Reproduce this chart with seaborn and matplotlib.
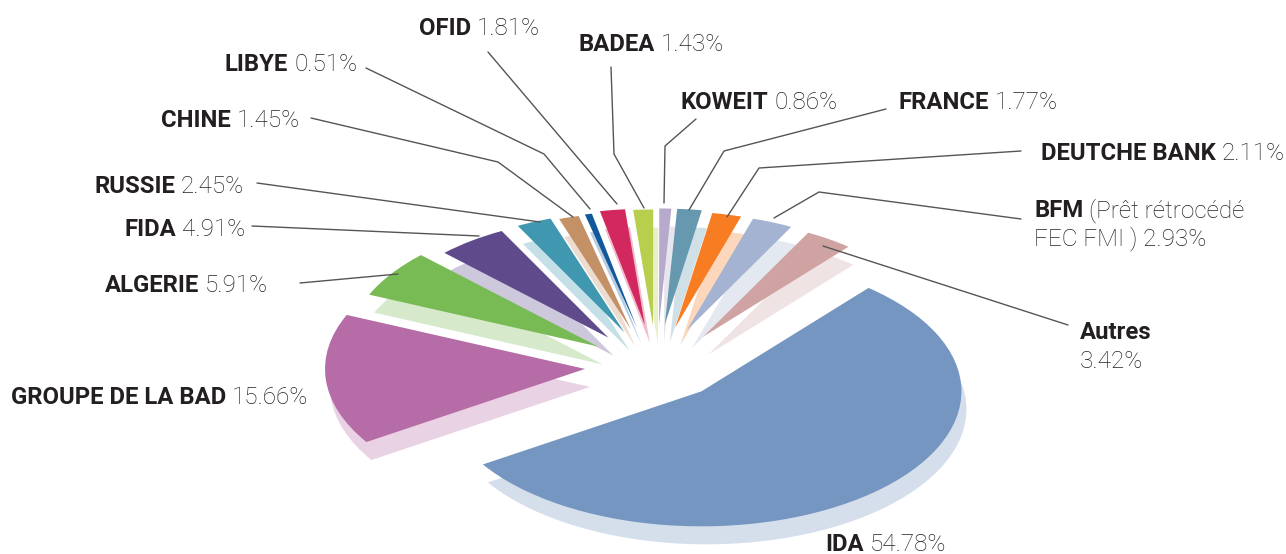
import matplotlib
matplotlib.use('Agg')
import matplotlib.pyplot as plt
import seaborn as sns

noms = ['IDA', 'GROUPE DE LA BAD', 'ALGERIE', 'FIDA', 'RUSSIE', 'CHINE', 'LIBYE', 'OFID',
        'BADEA', 'KOWEIT', 'FRANCE', 'DEUTCHE BANK', 'BFM', 'Autres']
parts = [54.78, 15.66, 5.91, 4.91, 2.45, 1.45, 0.51, 1.81, 1.43, 0.86, 1.77, 2.11, 2.93, 3.42]
couleurs = ['#7596c0', '#b66ca6', '#78bb55', '#5f4a8b', '#4098b0', '#c49066', '#11599b',
            '#d2285f', '#b8ce4d', '#b5aacb', '#6699b0', '#f77c22', '#a4b3d1', '#d0a3a3']
# rayon de chaque part (le haut du camembert est ecrase par la perspective)
rayons = [1.0, 1.0, 0.96, 0.89, 0.89, 0.86, 0.86, 0.86, 0.86, 0.86, 0.86, 0.86, 0.865, 0.87]
# petit decalage de chaque part, en pixels
decalages = [(0, 0), (0, 2), (1, 3), (-5, 3), (-3, 2), (-5, 0), (-3, -1), (0, -3), (1, -2),
             (2, -3), (2, -3), (4, -1), (5, 0), (9, 3)]

# bout gras, bout normal, x, ligne de base (pixels)
textes = [
    ('IDA', ' 54.78%', 825, 551),
    ('GROUPE DE LA BAD', ' 15.66%', 11, 404),
    ('ALGERIE', ' 5.91%', 105, 292),
    ('FIDA', ' 4.91%', 124, 236),
    ('RUSSIE', ' 2.45%', 94, 193),
    ('CHINE', ' 1.45%', 161, 127),
    ('LIBYE', ' 0.51%', 225, 71),
    ('OFID', ' 1.81%', 419, 35),
    ('BADEA', ' 1.43%', 578, 51),
    ('KOWEIT', ' 0.86%', 681, 109),
    ('FRANCE', ' 1.77%', 898, 109),
    ('DEUTCHE BANK', ' 2.11%', 1041, 160),
    ('BFM', ' (Prêt rétrocédé', 1034, 217),
    ('', 'FEC FMI ) 2.93%', 1034, 245),
    ('Autres', '', 1080, 339),
    ('', '3.42%', 1080, 368),
]

# traits de rappel (pixels)
traits = [
    [(300, 283), (398, 274)],
    [(252, 226), (479, 236)],
    [(257, 183), (540, 222)],
    [(311, 118), (498, 162), (573, 217)],
    [(366, 68), (544, 154), (590, 209)],
    [(488, 52), (617, 204)],
    [(611, 67), (614, 154), (644, 208)],
    [(696, 119), (665, 146), (664, 203)],
    [(886, 109), (724, 151), (689, 210)],
    [(1021, 151), (759, 168), (727, 217)],
    [(1021, 219), (819, 192), (774, 218)],
    [(1068, 325), (823, 246)],
]

W, H = 1286, 554
A, B = 260, 135   # demi axes de l'ellipse en pixels
CX, CY = 655, 364
ECART = 0.27

sns.set_theme(style='white')
plt.rcParams['font.family'] = ['Roboto', 'DejaVu Sans']

fig = plt.figure(figsize=(W / 100, H / 100), dpi=100)
ax = fig.add_axes([0, 0, 1, 1])
palette = sns.color_palette(couleurs)

# ombre claire dessous
ombre, _ = ax.pie(parts, colors=palette, startangle=50, counterclock=False,
                  explode=[ECART] * len(parts), center=(5 / A, -18 / B),
                  wedgeprops={'alpha': 0.3, 'linewidth': 0})
dessus, _ = ax.pie(parts, colors=palette, startangle=50, counterclock=False,
                   explode=[ECART] * len(parts),
                   wedgeprops={'linewidth': 0})
for groupe, z in ((ombre, 1), (dessus, 2)):
    for w, r, d in zip(groupe, rayons, decalages):
        w.set_radius(r)
        w.set_center((w.center[0] + d[0] / A, w.center[1] - d[1] / B))
        w.set_zorder(z)

ax.set_aspect('auto')
ax.set_xlim(-CX / A, (W - CX) / A)
ax.set_ylim(-(H - CY) / B, CY / B)
ax.axis('off')

# calque en pixels pour textes et traits
top = fig.add_axes([0, 0, 1, 1])
top.set_xlim(0, W)
top.set_ylim(H, 0)
top.axis('off')
top.patch.set_alpha(0)

for t in traits:
    top.plot([p[0] for p in t], [p[1] for p in t], color='#555555', lw=1.0, zorder=3)

fig.canvas.draw()
rend = fig.canvas.get_renderer()
for gras, normal, x, y in textes:
    if gras:
        g = top.text(x, y, gras, fontsize=17.2, fontweight='bold', color='#231f20', va='baseline')
        x = g.get_window_extent(rend).x1 + 6
    if normal:
        top.text(x, y, normal.strip(), fontsize=17.5, fontweight='light',
                 color='#222222', va='baseline')

fig.savefig('out.png', dpi=100)
